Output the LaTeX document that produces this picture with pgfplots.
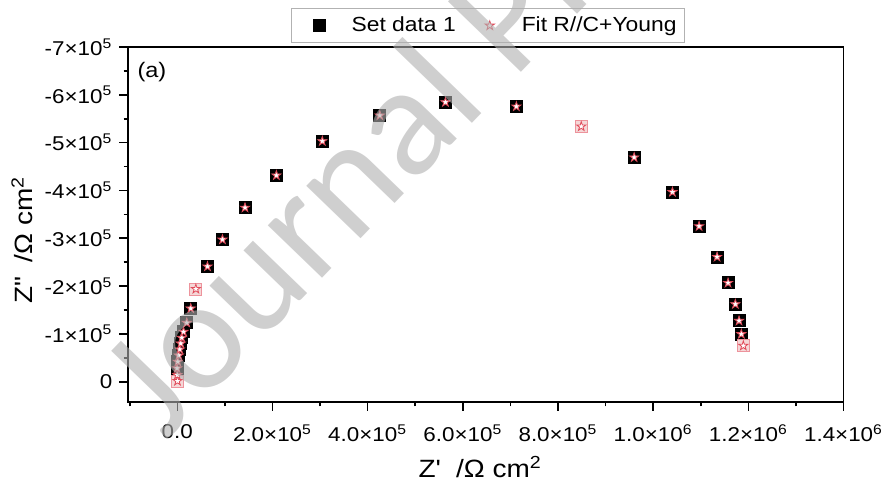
\documentclass[border=0pt]{standalone}
\usepackage{fontspec}
\setmainfont{Liberation Sans}[FakeStretch=1.12]
\newfontfamily\wmfont{Carlito}
\usepackage{pgfplots}
\pgfplotsset{compat=1.18}

\pgfdeclareplotmark{pstar}{%
  \pgfpathmoveto{\pgfqpoint{0pt}{\pgfplotmarksize}}%
  \pgfpathlineto{\pgfqpoint{-0.2245\pgfplotmarksize}{0.309\pgfplotmarksize}}%
  \pgfpathlineto{\pgfqpoint{-0.951\pgfplotmarksize}{0.309\pgfplotmarksize}}%
  \pgfpathlineto{\pgfqpoint{-0.363\pgfplotmarksize}{-0.118\pgfplotmarksize}}%
  \pgfpathlineto{\pgfqpoint{-0.588\pgfplotmarksize}{-0.809\pgfplotmarksize}}%
  \pgfpathlineto{\pgfqpoint{0pt}{-0.382\pgfplotmarksize}}%
  \pgfpathlineto{\pgfqpoint{0.588\pgfplotmarksize}{-0.809\pgfplotmarksize}}%
  \pgfpathlineto{\pgfqpoint{0.363\pgfplotmarksize}{-0.118\pgfplotmarksize}}%
  \pgfpathlineto{\pgfqpoint{0.951\pgfplotmarksize}{0.309\pgfplotmarksize}}%
  \pgfpathlineto{\pgfqpoint{0.2245\pgfplotmarksize}{0.309\pgfplotmarksize}}%
  \pgfpathclose
  \pgfusepathqfillstroke}

\definecolor{fitred}{RGB}{225,75,90}
\definecolor{wmgray}{RGB}{175,175,175}
\definecolor{palesq}{RGB}{245,215,215}

\pgfplotstableread{
x y
0 -14000
-500 -28000
1000 -41800
3100 -55000
5200 -67600
7300 -80000
9400 -91900
13000 -104400
19900 -123200
28300 -153200
63400 -241000
94900 -297300
142300 -364000
208200 -431500
304700 -503100
425600 -556800
563500 -584600
712500 -575600
960100 -469100
1040500 -396700
1096500 -325100
1134300 -261000
1157400 -206700
1172700 -162200
1180500 -127400
1185300 -99600
}\datatab

\pgfplotstableread{
x y
420 -1500
39000 -194000
848900 -533800
1189500 -75200
}\paletab

\pgfplotstableread{
x y
420 -1500
0 -14000
-500 -28000
1000 -41800
3100 -55000
5200 -67600
7300 -80000
9400 -91900
13000 -104400
19900 -123200
28300 -153200
39000 -194000
63400 -241000
94900 -297300
142300 -364000
208200 -431500
304700 -503100
425600 -556800
563500 -584600
712500 -575600
848900 -533800
960100 -469100
1040500 -396700
1096500 -325100
1134300 -261000
1157400 -206700
1172700 -162200
1180500 -127400
1185300 -99600
1189500 -75200
}\fittab

\begin{document}
\begin{tikzpicture}
\begin{axis}[
  name=ax,
  scale only axis,
  width=357.6pt, height=177.4pt,
  xmin=-103000, xmax=1400000,
  ymin=-700000, ymax=42000,
  y dir=reverse,
  axis line style={line width=0.9pt},
  tick align=outside,
  tick pos=left,
  major tick length=4.5pt, minor tick length=2.3pt,
  every tick/.style={black, line width=0.8pt},
  scaled ticks=false,
  xtick={0,200000,400000,600000,800000,1000000,1200000,1400000},
  xticklabels={0.0, 2.0×10\textsuperscript{5}, 4.0×10\textsuperscript{5}, 6.0×10\textsuperscript{5}, 8.0×10\textsuperscript{5}, 1.0×10\textsuperscript{6}, 1.2×10\textsuperscript{6}, 1.4×10\textsuperscript{6}},
  minor xtick={-100000,100000,300000,500000,700000,900000,1100000,1300000},
  ytick={-700000,-600000,-500000,-400000,-300000,-200000,-100000,0},
  yticklabels={-7×10\textsuperscript{5}, -6×10\textsuperscript{5}, -5×10\textsuperscript{5}, -4×10\textsuperscript{5}, -3×10\textsuperscript{5}, -2×10\textsuperscript{5}, -1×10\textsuperscript{5}, 0},
  minor ytick={-650000,-550000,-450000,-350000,-250000,-150000,-50000},
  ticklabel style={font=\fontsize{10}{12}\selectfont},
  xticklabel style={yshift=-3.5pt},
  xlabel={Z\textquotesingle\ \ /Ω cm\textsuperscript{2}},
  ylabel={Z\textquotedbl\ \ /Ω cm\textsuperscript{2}},
  xlabel style={at={(axis description cs:0.492,-0.184)}, anchor=center, font=\fontsize{12.5}{15}\selectfont},
  ylabel style={at={(axis description cs:-0.1487,0.456)}, anchor=center, font=\fontsize{12.5}{15}\selectfont},
  legend columns=2,
  legend image code/.code={\path[draw=none,fill=none] (0pt,-3pt) (18pt,3pt); \draw[#1] plot coordinates {(12pt,0pt)};},
  legend style={at={(axis description cs:0.503,1.011)}, anchor=south, draw=gray!60, line width=0.6pt,
    font=\fontsize{10.2}{12}\selectfont, inner xsep=2pt, inner ysep=2pt,
    /tikz/every odd column/.append style={column sep=8pt},
    /tikz/every even column/.append style={column sep=3pt}},
]
\addplot[only marks, mark=square*, mark size=3pt, black] table {\datatab};
\addlegendentry{Set data 1}
\addplot[only marks, mark=square*, mark size=3pt, mark options={draw=fitred!60, fill=palesq}, forget plot] table {\paletab};
\addplot[only marks, mark=pstar, mark size=2.4pt, mark options={draw=fitred, fill=white, line width=0.4pt}] table {\fittab};
\addlegendentry{Fit R//C+Young}
\node[font=\fontsize{10.5}{13}\selectfont] at (axis description cs:0.033,0.93) {(a)};
\coordinate (BL) at (axis description cs:0,0);
\coordinate (TR) at (axis description cs:1,1);
\coordinate (WM) at (axis description cs:0.051,-0.113);
\end{axis}
\node[rotate=46, anchor=base west, text=wmgray, text opacity=0.6, font=\wmfont\fontsize{79}{80}\selectfont, inner sep=0pt] at (WM) {Journal Pre-proof};
\pgfresetboundingbox
\path[use as bounding box] ([xshift=-64.15pt,yshift=-44.65pt]BL) rectangle ([xshift=19.75pt,yshift=23.5pt]TR);
\end{tikzpicture}
\end{document}
